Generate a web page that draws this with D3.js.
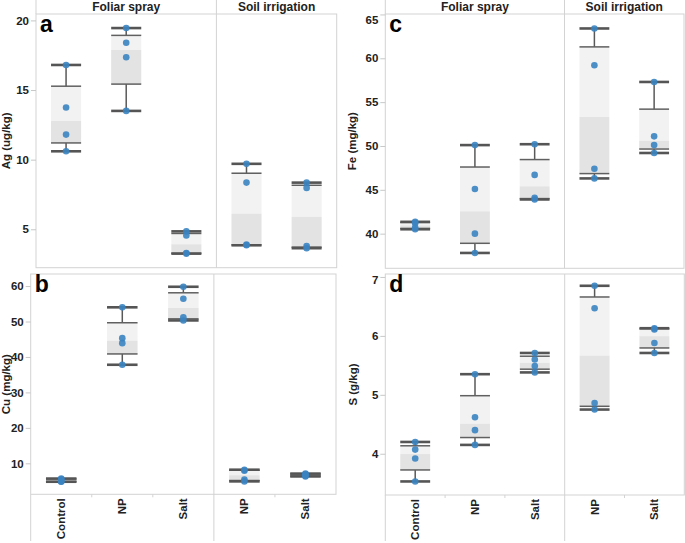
<!DOCTYPE html>
<html>
<head>
<meta charset="utf-8">
<script src="https://cdn.jsdelivr.net/npm/d3@7"></script>
<style>
  body { margin: 0; background: #fff; }
  svg { font-family: "Liberation Sans", Arial, sans-serif; }
  .frame { fill: none; stroke: #d3d3d3; stroke-width: 1; }
  .tick text { font-size: 11.5px; font-weight: bold; fill: #222; }
  .tick line { stroke: #c8c8c8; }
  .ytitle, .xlab, .head { font-weight: bold; fill: #222; }
  .letter { font-size: 23px; font-weight: bold; fill: #000; }
</style>
</head>
<body>
<svg width="685" height="543"></svg>
<script>
// categories
var methods = ["Foliar spray", "Soil irrigation"];
var groups = ["Control", "NP", "Salt", "NP", "Salt"];
var groupMethod = ["Foliar spray", "Foliar spray", "Foliar spray", "Soil irrigation", "Soil irrigation"];

// replicate values per group
var agValues = [
  [16.8, 13.75, 11.8, 10.6],
  [19.45, 18.4, 17.35, 13.5],
  [4.85, 4.55, 3.3, 3.25],
  [9.7, 8.35, 3.9, 3.85],
  [8.35, 7.97, 3.8, 3.64]
];
var cuValues = [
  [5.7, 5.5, 4.9, 4.8],
  [54.0, 45.3, 43.9, 37.8],
  [59.8, 56.4, 51.2, 50.3],
  [8.2, 7.9, 5.4, 4.9],
  [7.1, 6.9, 6.5, 6.3]
];
var feValues = [
  [41.35, 41.2, 40.7, 40.5],
  [50.1, 45.1, 40.0, 37.8],
  [50.2, 46.7, 44.1, 43.9],
  [63.4, 59.2, 47.4, 46.3],
  [57.3, 51.1, 50.1, 49.2]
];
var sValues = [
  [4.2, 4.07, 3.92, 3.53],
  [5.35, 4.62, 4.4, 4.15],
  [5.71, 5.6, 5.49, 5.38],
  [6.85, 6.47, 4.86, 4.75],
  [6.13, 6.11, 5.88, 5.71]
];

// axis tick values
var agTicks = [5, 10, 15, 20];
var cuTicks = [10, 20, 30, 40, 50, 60];
var feTicks = [40, 45, 50, 55, 60, 65];
var sTicks = [4, 5, 6, 7];

var panels = [
  { letter: "a", title: "Ag (ug/kg)", values: agValues, ticks: agTicks, domain: [2.24, 20.46],
    x0: 36, x1: 336.7, y0: 14, y1: 267.7, titleX: 6, header: true },
  { letter: "b", title: "Cu (mg/kg)", values: cuValues, ticks: cuTicks, domain: [1.26, 63.4],
    x0: 30.7, x1: 336, y0: 274, y1: 494.3, titleX: 6, footer: true },
  { letter: "c", title: "Fe (mg/kg)", values: feValues, ticks: feTicks, domain: [36.05, 65.05],
    x0: 385.3, x1: 684, y0: 14, y1: 268.3, titleX: 352, header: true },
  { letter: "d", title: "S (g/kg)", values: sValues, ticks: sTicks, domain: [3.3, 7.05],
    x0: 385.3, x1: 684.3, y0: 274, y1: 495, titleX: 352.5, footer: true }
];

var svg = d3.select("svg");

function boxStats(vals) {
  var s = vals.slice().sort(d3.ascending);
  var n = s.length;
  return {
    min: s[0],
    max: s[n - 1],
    q1: d3.median(s.slice(0, Math.floor(n / 2))),
    med: d3.median(s),
    q3: d3.median(s.slice(Math.ceil(n / 2)))
  };
}

panels.forEach(function(p) {
  var x = d3.scaleBand()
    .domain(d3.range(groups.length))
    .range([p.x0, p.x1]);
  var y = d3.scaleLinear()
    .domain(p.domain)
    .range([p.y1, p.y0]);

  var g = svg.append("g");
  var divX = x(3);

  // frame + divider
  g.append("rect").attr("class", "frame")
    .attr("x", p.x0).attr("y", p.y0)
    .attr("width", p.x1 - p.x0).attr("height", p.y1 - p.y0);
  g.append("line").attr("class", "frame")
    .attr("x1", divX).attr("x2", divX)
    .attr("y1", p.header ? 0 : p.y0)
    .attr("y2", p.footer ? 541 : p.y1);

  if (p.header) {
    g.append("line").attr("class", "frame")
      .attr("x1", p.x0).attr("x2", p.x0).attr("y1", 0).attr("y2", p.y0);
    var sections = [[p.x0, divX], [divX, p.x1]];
    g.selectAll("text.head")
      .data(methods)
      .enter()
      .append("text")
      .attr("class", "head")
      .attr("x", function(d, i) { return (sections[i][0] + sections[i][1]) / 2; })
      .attr("y", 10.5)
      .attr("text-anchor", "middle")
      .style("font-size", "12px")
      .text(function(d) { return d; });
  }

  if (p.footer) {
    g.append("line").attr("class", "frame")
      .attr("x1", p.x0).attr("x2", p.x0).attr("y1", p.y1).attr("y2", 541);
    // small separators between categories in the same section
    [1, 2, 4].forEach(function(i) {
      g.append("line").attr("class", "frame")
        .attr("x1", x(i)).attr("x2", x(i)).attr("y1", p.y1).attr("y2", p.y1 + 3);
    });
    g.selectAll("text.xlab")
      .data(groups)
      .enter()
      .append("text")
      .attr("class", "xlab")
      .attr("transform", function(d, i) {
        return "translate(" + (x(i) + x.bandwidth() / 2 + 4) + "," + (p.y1 + 4) + ") rotate(-90)";
      })
      .attr("text-anchor", "end")
      .style("font-size", "11.5px")
      .text(function(d) { return d; });
  }

  // y axis
  var axis = g.append("g")
    .attr("transform", "translate(" + p.x0 + ",0)")
    .call(d3.axisLeft(y).tickValues(p.ticks).tickFormat(d3.format("d")).tickSize(5).tickPadding(2));
  axis.select(".domain").remove();
  axis.selectAll(".tick text")
    .attr("font-family", null).attr("font-size", null)
    .attr("dy", function(d) {
      var shift = Math.max(0, p.y0 + 6 - y(d));
      return (0.32 + shift / 11.5) + "em";
    });

  g.append("text")
    .attr("class", "ytitle")
    .attr("transform", "translate(" + p.titleX + "," + ((p.y0 + p.y1) / 2) + ") rotate(-90)")
    .attr("text-anchor", "middle")
    .attr("dy", "0.35em")
    .style("font-size", "11.5px")
    .text(p.title);

  // boxes
  var bw = x.bandwidth() * 0.5;
  var stats = p.values.map(boxStats);
  var box = g.selectAll("g.box")
    .data(stats)
    .enter()
    .append("g")
    .attr("class", "box")
    .attr("transform", function(d, i) { return "translate(" + (x(i) + x.bandwidth() / 2) + ",0)"; });

  box.append("rect")
    .attr("x", -bw / 2).attr("width", bw)
    .attr("y", function(d) { return y(d.q3); })
    .attr("height", function(d) { return y(d.med) - y(d.q3); })
    .attr("fill", "#f2f2f2");
  box.append("rect")
    .attr("x", -bw / 2).attr("width", bw)
    .attr("y", function(d) { return y(d.med); })
    .attr("height", function(d) { return y(d.q1) - y(d.med); })
    .attr("fill", "#e3e3e3");

  // whiskers
  box.append("line")
    .attr("x1", 0).attr("x2", 0)
    .attr("y1", function(d) { return y(d.max); })
    .attr("y2", function(d) { return y(d.q3); })
    .attr("stroke", "#595959").attr("stroke-width", 1.5);
  box.append("line")
    .attr("x1", 0).attr("x2", 0)
    .attr("y1", function(d) { return y(d.q1); })
    .attr("y2", function(d) { return y(d.min); })
    .attr("stroke", "#595959").attr("stroke-width", 1.5);

  // box edges
  ["q1", "q3"].forEach(function(k) {
    box.append("line")
      .attr("x1", -bw / 2).attr("x2", bw / 2)
      .attr("y1", function(d) { return y(d[k]); })
      .attr("y2", function(d) { return y(d[k]); })
      .attr("stroke", "#606060").attr("stroke-width", 1.5);
  });
  // whisker caps
  ["min", "max"].forEach(function(k) {
    box.append("line")
      .attr("x1", -bw / 2).attr("x2", bw / 2)
      .attr("y1", function(d) { return y(d[k]); })
      .attr("y2", function(d) { return y(d[k]); })
      .attr("stroke", "#555").attr("stroke-width", 2.6);
  });

  // points
  p.values.forEach(function(vals, i) {
    g.selectAll(null)
      .data(vals)
      .enter()
      .append("circle")
      .attr("cx", x(i) + x.bandwidth() / 2)
      .attr("cy", function(d) { return y(d); })
      .attr("r", 3.3)
      .attr("fill", "#3a83c1")
      .attr("fill-opacity", 0.9);
  });

  g.append("text")
    .attr("class", "letter")
    .attr("x", p.x0 + 4)
    .attr("y", p.y0 + 18)
    .text(p.letter);
});
</script>
</body>
</html>
